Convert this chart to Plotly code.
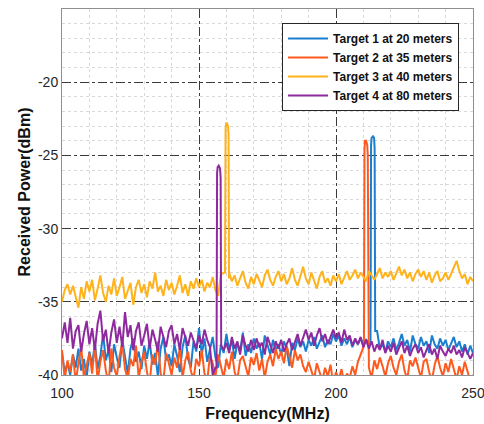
import plotly.graph_objects as go

freq = list(range(100, 251))

t1_noise = [
    -38.5, -39.8, -39.2, -40.0, -38.6, -39.5, -38.2, -39.7, -38.9, -40.2,
    -38.4, -39.3, -37.8, -39.6, -38.7, -37.2, -39.0, -38.3, -39.8, -37.9,
    -38.8, -39.5, -37.6, -38.9, -39.9, -38.2, -37.5, -39.1, -38.4, -39.6,
    -38.0, -38.9, -37.7, -39.3, -38.5, -40.1, -38.2, -37.4, -39.0, -38.6,
    -39.4, -37.9, -38.7, -39.8, -38.1, -37.3, -38.9, -39.5, -37.7, -38.4,
    -36.8, -38.6, -37.5, -39.1, -38.2, -37.4, -38.8, -39.5, -37.9, -38.5,
    -37.2, -38.3, -37.6, -38.9, -37.8, -38.4, -37.1, -38.7, -37.9, -38.5,
    -37.5, -38.2, -37.8, -38.9, -37.3, -38.0, -38.6, -37.6, -38.3, -37.9,
    -38.6, -37.7, -38.2, -39.4, -37.8, -38.3, -37.5, -38.1, -37.7, -38.4,
    -37.6, -38.0, -37.4, -38.2, -37.8, -37.3, -38.1, -37.6, -37.9, -37.2,
    -37.7, -37.3, -38.0, -37.5, -37.9, -37.4, -38.1, -37.6, -37.9, -37.5,
    -38.0, -37.6, -37.8, -37.5, -37.5, -37.0, -38.2, -37.9, -38.4, -37.7,
    -38.1, -37.5, -38.3, -37.8, -37.2, -38.0, -37.6, -38.4, -37.3, -37.9,
    -38.2, -37.4, -38.0, -37.7, -38.5, -37.3, -37.9, -38.2, -37.5, -38.0,
    -37.6, -38.3, -37.8, -37.4, -38.1, -37.7, -38.4, -37.9, -38.6, -38.0,
    -38.5,
]
t1_peak_x = [212.6, 212.8, 213.0, 213.5, 213.9, 214.1, 214.3]
t1_peak_y = [-37.8, -24.3, -23.8, -23.7, -23.8, -24.5, -37.0]

t2_noise = [
    -38.3, -40.3, -39.0, -39.8, -38.6, -40.5, -39.2, -38.1, -40.2, -39.4,
    -38.5, -39.9, -37.9, -40.4, -39.1, -38.3, -39.7, -40.6, -38.2, -39.5,
    -40.1, -38.7, -37.8, -39.6, -40.3, -38.9, -39.4, -38.0, -40.2, -39.1,
    -38.4, -39.8, -40.5, -38.6, -39.3, -37.7, -39.9, -40.4, -38.5, -39.2,
    -40.0, -38.8, -39.5, -38.1, -40.2, -39.0, -38.4, -39.7, -40.3, -38.9,
    -39.4, -38.3, -39.9, -40.4, -38.7, -39.2, -40.1, -38.6, -39.5, -40.2,
    -38.9, -39.6, -38.4, -39.8, -40.3, -39.0, -38.7, -39.5, -40.1, -38.8,
    -39.3, -38.5, -39.7, -38.9, -40.2, -39.1, -38.6, -39.4, -38.2, -38.9,
    -38.4, -39.2, -38.0, -38.7, -39.5, -38.3, -39.0, -38.6, -39.4, -39.8,
    -39.1, -39.7, -40.3, -39.2, -39.9, -40.4, -39.5, -40.1, -39.3, -40.6,
    -39.8, -40.3, -39.6, -40.5, -39.9, -40.2, -39.4, -40.0, -39.1, -38.6,
    -38.0, -38.5, -39.5, -40.2, -39.0, -39.6, -38.8, -39.4, -40.1, -39.2,
    -38.7, -39.5, -40.0, -39.1, -38.6, -39.7, -40.3, -39.0, -39.4, -38.8,
    -39.6, -40.2, -39.1, -38.9, -39.8, -40.4, -39.3, -38.7, -39.5, -40.1,
    -39.2, -39.8, -38.9, -39.6, -40.3, -39.4, -40.0, -39.1, -39.7, -40.4,
    -40.0,
]
t2_peak_x = [210.2, 210.4, 210.6, 211.0, 211.4, 211.6, 211.8]
t2_peak_y = [-38.0, -24.5, -24.0, -24.0, -24.3, -25.0, -39.0]

t3_noise = [
    -35.0, -34.2, -33.8, -34.5, -33.9, -34.6, -35.4, -34.0, -34.8, -33.6,
    -34.3, -33.5, -34.9, -34.1, -33.2, -34.4, -35.0, -33.9, -34.5, -33.4,
    -34.6, -34.0, -33.3, -34.8, -34.2, -33.7, -35.2, -34.0, -33.5, -34.4,
    -33.8, -34.7, -33.6, -34.1, -33.0, -34.3, -33.9, -34.6, -33.5, -34.2,
    -33.7, -34.5, -33.9, -33.2, -34.4, -33.8, -34.6, -33.6, -34.1, -33.4,
    -34.0, -33.5, -34.3, -33.7, -34.0, -33.3, -34.2, -34.6, -33.1, -33.0,
    -33.4, -33.0, -33.6, -33.2, -33.9, -33.4, -32.9, -33.7, -34.1, -33.3,
    -33.8, -33.1, -33.6, -34.0, -33.2, -32.8, -33.5, -33.9, -33.3, -32.9,
    -33.6, -33.1, -33.8, -33.4, -32.7, -33.5, -33.9, -33.2, -32.6, -33.4,
    -33.8, -33.0, -33.5, -34.1, -33.3, -32.9, -33.7, -33.4, -33.9, -33.2,
    -33.6, -33.1, -33.8, -33.4, -32.9, -33.5, -33.2, -32.8, -33.4, -33.0,
    -33.3, -33.6, -32.9, -33.2, -33.5, -33.1, -32.7, -33.4, -33.0, -33.3,
    -32.9, -33.5, -33.1, -32.6, -33.2, -32.8, -33.4, -33.0, -33.6, -33.1,
    -32.8, -33.3, -32.9, -33.5, -33.0, -33.7, -33.2, -32.9, -33.6, -33.4,
    -33.0, -33.5, -33.1, -32.7, -32.2, -32.9, -33.4, -33.1, -33.8, -33.3,
    -33.6,
]
t3_peak_x = [159.5, 159.7, 159.9, 160.2, 160.6, 160.8, 160.95]
t3_peak_y = [-33.0, -23.2, -22.8, -22.8, -23.0, -23.6, -33.4]

t4_noise = [
    -37.5, -36.4, -37.8, -36.1, -38.2, -37.0, -36.6, -38.4, -37.2, -36.3,
    -37.9, -36.8, -38.3, -36.5, -35.6, -37.7, -36.9, -38.5, -37.1, -36.2,
    -37.8, -36.7, -38.1, -35.7, -37.4, -36.6, -38.3, -37.0, -36.4, -38.0,
    -37.3, -36.5, -38.2, -36.9, -37.6, -38.4, -36.7, -37.5, -38.1, -37.0,
    -36.6, -37.9, -37.2, -38.3, -36.8, -37.4, -38.0, -37.1, -37.7, -38.2,
    -37.3, -37.9, -36.9, -37.6, -38.1, -40.0, -39.5, -38.0, -38.0, -38.3,
    -37.8, -38.5, -37.4, -38.2, -37.7, -38.6, -37.3, -38.0, -38.4, -37.6,
    -38.3, -37.5, -38.1, -37.8, -38.6, -37.4, -38.0, -38.5, -37.7, -38.2,
    -37.6, -38.4, -37.9, -37.5, -38.3, -37.7, -37.2, -38.0, -37.4, -36.9,
    -37.6, -37.1, -38.0, -37.3, -36.8, -37.7, -37.2, -37.9, -37.4, -36.9,
    -37.5, -37.1, -37.8, -36.9, -37.6, -37.3, -38.0, -37.5, -37.9, -37.4,
    -38.1, -37.6, -38.2, -37.7, -38.4, -37.9, -38.3, -37.6, -38.5, -38.0,
    -38.4, -37.8, -38.6, -38.1, -37.7, -38.5, -38.0, -38.7, -38.2, -37.9,
    -38.5, -38.1, -38.8, -38.3, -37.9, -38.6, -38.2, -38.9, -38.0, -38.4,
    -38.7, -38.2, -38.5, -38.0, -38.6, -38.3, -38.8, -38.1, -38.5, -38.9,
    -38.5,
]
t4_peak_x = [156.4, 156.6, 156.8, 157.2, 157.7, 157.9, 158.1]
t4_peak_y = [-39.5, -26.2, -25.8, -25.7, -25.9, -26.6, -38.0]

names = ["Target 1 at 20 meters", "Target 2 at 35 meters",
         "Target 3 at 40 meters", "Target 4 at 80 meters"]
colors = ["#1a7fd0", "#ff5a1e", "#ffb21a", "#8e2a9e"]

x_ticks = [100, 150, 200, 250]
x_ticktext = ["100", "150", "200", "250"]
y_ticks = [-40, -35, -30, -25, -20]
y_ticktext = ["-40", "-35", "-30", "-25", "-20"]


def merge(noise, px, py):
    lo, hi = min(px), max(px)
    pts = [(f, v) for f, v in zip(freq, noise) if not (lo <= f <= hi)]
    pts += list(zip(px, py))
    pts.sort(key=lambda p: p[0])
    return [p[0] for p in pts], [p[1] for p in pts]


series = [(t1_noise, t1_peak_x, t1_peak_y), (t2_noise, t2_peak_x, t2_peak_y),
          (t3_noise, t3_peak_x, t3_peak_y), (t4_noise, t4_peak_x, t4_peak_y)]

fig = go.Figure()
for (n, px, py), name, c in zip(series, names, colors):
    x, y = merge(n, px, py)
    fig.add_trace(go.Scatter(x=x, y=y, mode="lines", name=name,
                             line=dict(color=c, width=2)))

font = "Liberation Sans, Arial, Helvetica, sans-serif"
fig.update_layout(
    width=484, height=424,
    margin=dict(l=62, r=11, t=9, b=49, autoexpand=False),
    paper_bgcolor="white", plot_bgcolor="white",
    font=dict(family=font, size=14, color="#262626"),
    showlegend=True,
    legend=dict(x=0.966, y=0.962, xanchor="right", yanchor="top",
                bgcolor="white", bordercolor="#262626", borderwidth=1,
                font=dict(family=font, size=12, color="#111111", weight="bold"),
                tracegroupgap=0, itemwidth=40),
)
fig.update_xaxes(
    range=[100, 250], tickvals=x_ticks, ticktext=x_ticktext,
    ticklabeloverflow="allow", ticklabelstandoff=5, automargin=False,
    showgrid=True, gridcolor="#3a3a3a", griddash="dashdot", gridwidth=1,
    minor=dict(dtick=10, tick0=100, showgrid=True, gridcolor="#d9d9d9",
               griddash="dot", gridwidth=1),
    showline=True, linecolor="#8f8f8f", linewidth=1, mirror=True,
    zeroline=False, ticks="",
    title=dict(text="Frequency(MHz)", standoff=8,
               font=dict(family=font, size=16, color="#111111", weight="bold")),
)
fig.update_yaxes(
    range=[-40, -15], tickvals=y_ticks, ticktext=y_ticktext,
    ticklabeloverflow="allow", automargin=False,
    showgrid=True, gridcolor="#3a3a3a", griddash="dashdot", gridwidth=1,
    minor=dict(dtick=1, tick0=-40, showgrid=True, gridcolor="#d9d9d9",
               griddash="dot", gridwidth=1),
    showline=True, linecolor="#8f8f8f", linewidth=1, mirror=True,
    zeroline=False, ticks="",
    title=dict(text="Received Power(dBm)", standoff=3,
               font=dict(family=font, size=16, color="#111111", weight="bold")),
)

fig.write_html("out.html")
